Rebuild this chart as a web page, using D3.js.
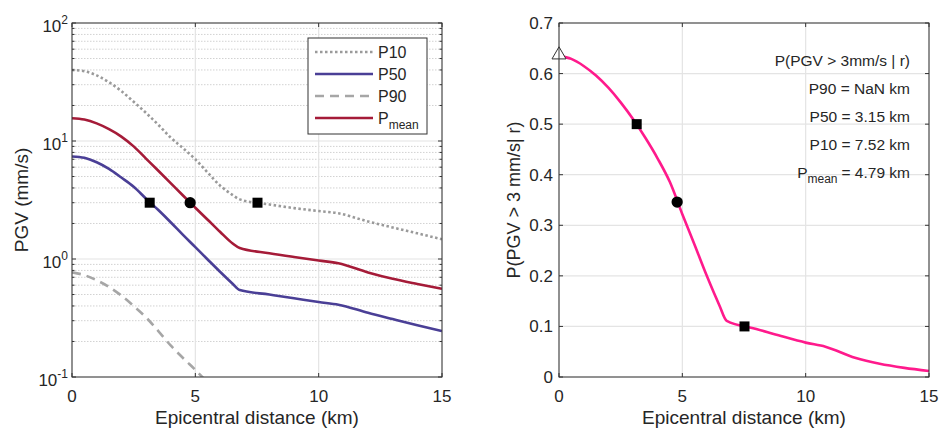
<!DOCTYPE html>
<html>
<head>
<meta charset="utf-8">
<script src="https://cdn.jsdelivr.net/npm/d3@7"></script>
<style>
body { margin: 0; background: #fff; }
text { font-family: "Liberation Sans", Arial, sans-serif; fill: #262626; }
</style>
</head>
<body>
<svg id="chart" width="942" height="429"></svg>
<script>
// distances (km) shared by all the curves
var dist   = [0, 0.5, 1, 1.5, 2, 2.5, 3, 3.5, 4, 4.5, 5, 5.5, 6, 6.5, 6.8, 8, 9, 10, 10.8, 12, 13, 14, 15];
var p10    = [40, 39, 36, 31.5, 26.5, 21.5, 17.3, 13.7, 10.7, 8.7, 7.0, 5.4, 4.2, 3.5, 3.2, 2.9, 2.7, 2.55, 2.44, 2.08, 1.85, 1.65, 1.47];
var p50    = [7.4, 7.2, 6.6, 5.8, 4.9, 4.1, 3.25, 2.6, 2.05, 1.6, 1.26, 0.99, 0.78, 0.62, 0.545, 0.5, 0.465, 0.432, 0.41, 0.35, 0.31, 0.275, 0.245];
var p90    = [0.77, 0.73, 0.66, 0.58, 0.49, 0.40, 0.32, 0.245, 0.185, 0.145, 0.115, 0.09, 0.072];
var pmean  = [15.6, 15.2, 14.1, 12.6, 10.9, 9.0, 7.1, 5.6, 4.4, 3.45, 2.72, 2.15, 1.7, 1.36, 1.24, 1.12, 1.04, 0.97, 0.92, 0.77, 0.68, 0.615, 0.56];
var probExceed = [0.635, 0.629, 0.615, 0.596, 0.572, 0.543, 0.51, 0.473, 0.432, 0.385, 0.322, 0.261, 0.199, 0.142, 0.111, 0.095, 0.081, 0.068, 0.06, 0.038, 0.026, 0.018, 0.012];

var threshold = 3;
var markDist = [3.15, 4.79, 7.52];          // P50, Pmean, P10
var markShape = ["square", "circle", "square"];
var markLeftY = [threshold, threshold, threshold];
var markProb = [0.5, 0.346, 0.1];

var xTicks = [0, 5, 10, 15];
var logTickExp = [-1, 0, 1, 2];
var probTicks = [0, 0.1, 0.2, 0.3, 0.4, 0.5, 0.6, 0.7];
var annotLines = ["P(PGV > 3mm/s | r)", "P90 = NaN km", "P50 = 3.15 km", "P10 = 7.52 km"];
var annotMean = "= 4.79 km";

var col = { p10: "#9a9a9a", p50: "#4a3f96", p90: "#a6a6a6", pmean: "#a51b38", prob: "#ff1a8c", axis: "#333", grid: "#e4e4e4", minor: "#d2d2d2" };

var svg = d3.select("#chart");
var top0 = 23, bot0 = 377;

// ---------- left panel ----------
var xL = d3.scaleLinear().domain([0, 15]).range([72, 442]);
var yL = d3.scaleLog().domain([0.1, 100]).range([bot0, top0]);

var left = svg.append("g");

var minorVals = [];
for (var e = -1; e < 2; e++) {
    for (var m = 2; m <= 9; m++) minorVals.push(m * Math.pow(10, e));
}

left.selectAll(".minor").data(minorVals).enter().append("line")
    .attr("x1", xL(0)).attr("x2", xL(15))
    .attr("y1", function (d) { return yL(d); }).attr("y2", function (d) { return yL(d); })
    .attr("stroke", col.minor).attr("stroke-width", 1).attr("stroke-dasharray", "1.5,1.5");

left.selectAll(".hmaj").data(logTickExp).enter().append("line")
    .attr("x1", xL(0)).attr("x2", xL(15))
    .attr("y1", function (d) { return yL(Math.pow(10, d)); }).attr("y2", function (d) { return yL(Math.pow(10, d)); })
    .attr("stroke", col.grid).attr("stroke-width", 1.2);

left.selectAll(".vmaj").data(xTicks).enter().append("line")
    .attr("x1", function (d) { return xL(d); }).attr("x2", function (d) { return xL(d); })
    .attr("y1", top0).attr("y2", bot0)
    .attr("stroke", col.grid).attr("stroke-width", 1.2);

left.append("clipPath").attr("id", "clipL").append("rect")
    .attr("x", xL(0)).attr("y", top0).attr("width", xL(15) - xL(0)).attr("height", bot0 - top0);

var lineL = function (vals) {
    return d3.line()
        .x(function (d, i) { return xL(dist[i]); })
        .y(function (d) { return yL(d); })
        .curve(d3.curveMonotoneX)(vals);
};

var curves = left.append("g").attr("clip-path", "url(#clipL)");
curves.append("path").attr("d", lineL(p90)).attr("fill", "none")
    .attr("stroke", col.p90).attr("stroke-width", 2.6).attr("stroke-dasharray", "9,6");
curves.append("path").attr("d", lineL(p10)).attr("fill", "none")
    .attr("stroke", col.p10).attr("stroke-width", 2.6).attr("stroke-dasharray", "2.5,2.5");
curves.append("path").attr("d", lineL(p50)).attr("fill", "none")
    .attr("stroke", col.p50).attr("stroke-width", 2.6);
curves.append("path").attr("d", lineL(pmean)).attr("fill", "none")
    .attr("stroke", col.pmean).attr("stroke-width", 2.6);

function drawMarks(g, xs, ys, xScale, yScale) {
    g.selectAll(".mk").data(markDist).enter().append("path")
        .attr("transform", function (d, i) { return "translate(" + xScale(d) + "," + yScale(ys[i]) + ")"; })
        .attr("d", function (d, i) {
            return markShape[i] == "square" ? "M-5,-5H5V5H-5Z" : d3.symbol().type(d3.symbolCircle).size(100)();
        })
        .attr("fill", "#000");
}
drawMarks(left, markDist, markLeftY, xL, yL);

// box and ticks
function drawBox(g, xScale, yScale) {
    var x0 = xScale.range()[0], x1 = xScale.range()[1];
    g.append("rect").attr("x", x0).attr("y", top0).attr("width", x1 - x0).attr("height", bot0 - top0)
        .attr("fill", "none").attr("stroke", col.axis).attr("stroke-width", 1);
    g.selectAll(".xt").data(xTicks).enter().append("path")
        .attr("d", function (d) {
            var x = xScale(d);
            return "M" + x + "," + bot0 + "v-4M" + x + "," + top0 + "v4";
        })
        .attr("stroke", col.axis);
    g.selectAll(".xl").data(xTicks).enter().append("text")
        .attr("x", function (d) { return xScale(d); }).attr("y", 402)
        .attr("text-anchor", "middle").attr("font-size", 17).text(function (d) { return d; });
}
drawBox(left, xL, yL);

left.selectAll(".yt").data(logTickExp).enter().append("path")
    .attr("d", function (d) {
        var y = yL(Math.pow(10, d));
        return "M" + xL(0) + "," + y + "h4M" + xL(15) + "," + y + "h-4";
    })
    .attr("stroke", col.axis);
left.selectAll(".ymt").data(minorVals).enter().append("path")
    .attr("d", function (d) {
        var y = yL(d);
        return "M" + xL(0) + "," + y + "h2.5M" + xL(15) + "," + y + "h-2.5";
    })
    .attr("stroke", col.axis);

var yLab = left.selectAll(".yl").data(logTickExp).enter().append("text")
    .attr("x", 68).attr("y", function (d) { return yL(Math.pow(10, d)) + 9; })
    .attr("text-anchor", "end").attr("font-size", 17);
yLab.append("tspan").text("10");
yLab.append("tspan").attr("font-size", 12).attr("dy", -8).text(function (d) { return d; });

left.append("text").attr("x", xL(7.5)).attr("y", 424).attr("text-anchor", "middle")
    .attr("font-size", 19).text("Epicentral distance (km)");
left.append("text").attr("transform", "translate(28,200) rotate(-90)").attr("text-anchor", "middle")
    .attr("font-size", 19).text("PGV (mm/s)");

// legend
var legNames = ["P10", "P50", "P90", "P"];
var legCol = [col.p10, col.p50, col.p90, col.pmean];
var legDash = ["2.5,2.5", null, "9,6", null];
var leg = left.append("g");
leg.append("rect").attr("x", 308).attr("y", 38).attr("width", 119).attr("height", 96)
    .attr("fill", "#fff").attr("stroke", col.axis);
leg.selectAll(".ll").data(legNames).enter().append("line")
    .attr("x1", 315).attr("x2", 373)
    .attr("y1", function (d, i) { return 52 + i * 22; }).attr("y2", function (d, i) { return 52 + i * 22; })
    .attr("stroke", function (d, i) { return legCol[i]; }).attr("stroke-width", 2.6)
    .attr("stroke-dasharray", function (d, i) { return legDash[i]; });
var legText = leg.selectAll(".lt").data(legNames).enter().append("text")
    .attr("x", 378).attr("y", function (d, i) { return 58 + i * 22; })
    .attr("font-size", 16).text(function (d) { return d; });
legText.filter(function (d, i) { return i == 3; }).append("tspan")
    .attr("font-size", 12).attr("dy", 5).text("mean");

// ---------- right panel ----------
var xR = d3.scaleLinear().domain([0, 15]).range([559, 929]);
var yR = d3.scaleLinear().domain([0, 0.7]).range([bot0, top0]);
var right = svg.append("g");

right.selectAll(".hg").data(probTicks).enter().append("line")
    .attr("x1", xR(0)).attr("x2", xR(15))
    .attr("y1", function (d) { return yR(d); }).attr("y2", function (d) { return yR(d); })
    .attr("stroke", col.grid).attr("stroke-width", 1.2);
right.selectAll(".vg").data(xTicks).enter().append("line")
    .attr("x1", function (d) { return xR(d); }).attr("x2", function (d) { return xR(d); })
    .attr("y1", top0).attr("y2", bot0)
    .attr("stroke", col.grid).attr("stroke-width", 1.2);

right.append("path")
    .attr("d", d3.line()
        .x(function (d, i) { return xR(dist[i]); })
        .y(function (d) { return yR(d); })
        .curve(d3.curveMonotoneX)(probExceed))
    .attr("fill", "none").attr("stroke", col.prob).attr("stroke-width", 2.6);

drawMarks(right, markDist, markProb, xR, yR);
right.append("path")
    .attr("transform", "translate(" + xR(0) + "," + (yR(probExceed[0]) - 1) + ")")
    .attr("d", d3.symbol().type(d3.symbolTriangle).size(85)())
    .attr("fill", "#fff").attr("stroke", col.axis).attr("stroke-width", 1);

drawBox(right, xR, yR);
right.selectAll(".yt").data(probTicks).enter().append("path")
    .attr("d", function (d) {
        var y = yR(d);
        return "M" + xR(0) + "," + y + "h4M" + xR(15) + "," + y + "h-4";
    })
    .attr("stroke", col.axis);
right.selectAll(".yl").data(probTicks).enter().append("text")
    .attr("x", 553).attr("y", function (d) { return yR(d) + 6; })
    .attr("text-anchor", "end").attr("font-size", 17).text(function (d) { return d; });

right.append("text").attr("x", xR(7.5)).attr("y", 424).attr("text-anchor", "middle")
    .attr("font-size", 19).text("Epicentral distance (km)");
right.append("text").attr("transform", "translate(520,200) rotate(-90)").attr("text-anchor", "middle")
    .attr("font-size", 18).text("P(PGV > 3 mm/s| r)");

right.selectAll(".an").data(annotLines).enter().append("text")
    .attr("x", 910).attr("y", function (d, i) { return 66 + i * 28; })
    .attr("text-anchor", "end").attr("font-size", 15.5).text(function (d) { return d; });
var meanLab = right.append("text").attr("x", 910).attr("y", 66 + 4 * 28)
    .attr("text-anchor", "end").attr("font-size", 15.5);
meanLab.append("tspan").text("P");
meanLab.append("tspan").attr("font-size", 12).attr("dy", 5).text("mean");
meanLab.append("tspan").attr("dy", -5).attr("dx", 4).text(annotMean);
</script>
</body>
</html>
